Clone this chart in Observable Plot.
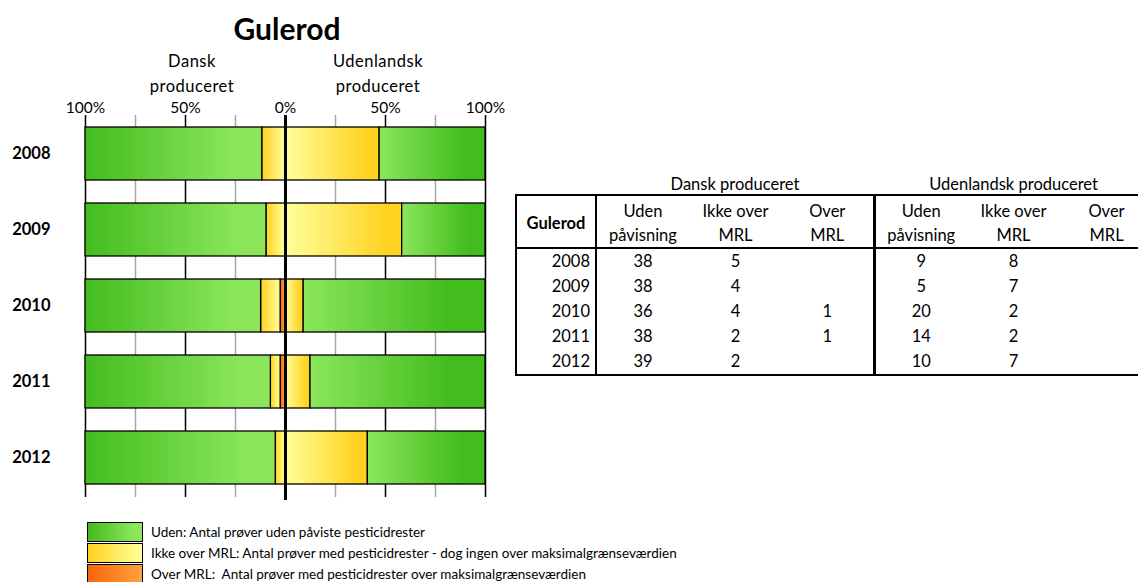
<!DOCTYPE html>
<html><head><meta charset="utf-8">
<script src="https://cdn.jsdelivr.net/npm/d3@7"></script>
<script src="https://cdn.jsdelivr.net/npm/@observablehq/plot@0.6"></script>
<style>
body{margin:0;background:#fff;font-family:Lato,"Noto Sans",sans-serif;color:#000;}
#wrap{position:relative;width:1138px;height:582px;overflow:hidden;background:#fff;}
.lbl{position:absolute;transform:translate(-50%,-50%);white-space:nowrap;text-align:center;}
#title{font-weight:bold;font-size:30px;left:287px;top:28px;}
.grp{font-size:16.5px;line-height:25px;letter-spacing:0.5px;}
#chart{position:absolute;left:0;top:0;}
#tbl{position:absolute;left:515px;top:175px;width:637px;border-collapse:collapse;table-layout:fixed;font-size:16.5px;}
#tbl td{padding:0;text-align:center;vertical-align:middle;white-space:nowrap;}
#tbl tr.g td{height:19px;line-height:19px;}
#tbl tr.h td{height:53px;line-height:24px;border-top:2px solid #000;border-bottom:2px solid #000;padding-top:3px;box-sizing:border-box;}
#tbl tr.d td{height:25px;line-height:25px;}
#tbl tr.d.last td{border-bottom:2px solid #000;}
#tbl td.c0{border-left:2px solid #000;border-right:2px solid #000;}
#tbl tr.g td.c0{border:none;}
#tbl tr.d td.c0{text-align:right;padding-right:5px;}
#tbl td.c3{border-right:3px solid #000;}
#tbl tr.g td.c3{border-right:none;}
#legend{position:absolute;left:87px;top:521px;font-size:13.5px;}
.lrow{display:flex;align-items:center;height:21px;}
.sw{width:54px;height:18px;border:1.5px solid #000;margin-right:8px;flex:none;}
</style></head><body>
<svg width="0" height="0" style="position:absolute">
<defs>
<linearGradient id="gL" x1="0" x2="1" y1="0" y2="0"><stop offset="0" stop-color="#43bc1e"/><stop offset="0.85" stop-color="#8be65c"/></linearGradient>
<linearGradient id="gR" x1="0" x2="1" y1="0" y2="0"><stop offset="0" stop-color="#8be65c"/><stop offset="0.8" stop-color="#43bc1e"/><stop offset="1" stop-color="#43bc1e"/></linearGradient>
<linearGradient id="yL" x1="0" x2="1" y1="0" y2="0"><stop offset="0" stop-color="#ffd21f"/><stop offset="1" stop-color="#ffff9c"/></linearGradient>
<linearGradient id="yR" x1="0" x2="1" y1="0" y2="0"><stop offset="0" stop-color="#ffff9c"/><stop offset="0.88" stop-color="#ffd21f"/><stop offset="1" stop-color="#ffd21f"/></linearGradient>
<linearGradient id="oL" x1="0" x2="1" y1="0" y2="0"><stop offset="0" stop-color="#f96608"/><stop offset="1" stop-color="#ffa040"/></linearGradient>
<linearGradient id="oR" x1="0" x2="1" y1="0" y2="0"><stop offset="0" stop-color="#ffa040"/><stop offset="1" stop-color="#f96608"/></linearGradient>
</defs></svg>
<div id="wrap">
  <div id="chart"></div>
  <div class="lbl" id="title">Gulerod</div>
  <div class="lbl grp" style="left:192px;top:74px;">Dansk<br>produceret</div>
  <div class="lbl grp" style="left:378px;top:74px;">Udenlandsk<br>produceret</div>
  <table id="tbl"></table>
  <div id="legend"></div>
</div>
<script>
const years = ["2008", "2009", "2010", "2011", "2012"];
const dkUden = [38, 38, 36, 38, 39];
const dkIkke = [5, 4, 4, 2, 2];
const dkOver = [null, null, 1, 1, null];
const udUden = [9, 5, 20, 14, 10];
const udIkke = [8, 7, 2, 2, 7];
const udOver = [null, null, null, null, null];
const majorTicks = [-100, -50, 0, 50, 100];
const minorTicks = [-75, -25, 25, 75];
const groupLabels = ["Dansk produceret", "Udenlandsk produceret"];
const colHeads = ["Uden<br>påvisning", "Ikke over<br>MRL", "Over<br>MRL"];
const legendItems = [
  ["gL", "Uden: Antal prøver uden påviste pesticidrester"],
  ["yL", "Ikke over MRL: Antal prøver med pesticidrester - dog ingen over maksimalgrænseværdien"],
  ["oL", "Over MRL:&nbsp; Antal prøver med pesticidrester over maksimalgrænseværdien"]
];

// build stacked segments (center outward: over, ikke, uden)
const segs = [];
years.forEach((y, i) => {
  [[-1, [dkOver[i], dkIkke[i], dkUden[i]], ["oL", "yL", "gL"]],
   [1, [udOver[i], udIkke[i], udUden[i]], ["oR", "yR", "gR"]]].forEach(([sign, vals, fills]) => {
    const total = vals.reduce((a, b) => a + (b || 0), 0);
    let cum = 0;
    vals.forEach((v, k) => {
      if (!v) return;
      const p = v / total * 100;
      segs.push({year: y, x1: sign * cum, x2: sign * (cum + p), fill: `url(#${fills[k]})`});
      cum += p;
    });
  });
});

const plot = Plot.plot({
  width: 520,
  height: 510,
  marginTop: 115,
  marginBottom: 13,
  marginLeft: 85,
  marginRight: 35,
  style: {fontFamily: "Lato, 'Noto Sans', sans-serif", background: "transparent", overflow: "visible"},
  x: {domain: [-100, 100]},
  y: {domain: years, paddingInner: 0.3, paddingOuter: 0.15},
  color: {type: "identity"},
  marks: [
    Plot.ruleX(minorTicks, {stroke: "#a6a6a6", strokeWidth: 1.5}),
    Plot.ruleX(majorTicks.filter(d => d !== 0), {stroke: "#000", strokeWidth: 1.5}),
    Plot.barX(segs, {y: "year", x1: "x1", x2: "x2", fill: "fill", stroke: "#000", strokeWidth: 1.3}),
    Plot.ruleX([0], {stroke: "#000", strokeWidth: 3, insetBottom: -3}),
    Plot.axisX({anchor: "top", ticks: majorTicks, tickSize: 0, tickPadding: 3, fontSize: 15.5,
      tickFormat: d => Math.abs(d) + "%", label: null}),
    Plot.axisY({tickSize: 0, tickPadding: 35, fontSize: 16.5, fontWeight: "bold", label: null})
  ]
});
document.getElementById("chart").appendChild(plot);

// table
const tbl = document.getElementById("tbl");
const widths = [80, 93, 93, 92, 93, 93, 93];
let html = "<colgroup>" + widths.map(w => `<col style="width:${w}px">`).join("") + "</colgroup>";
html += `<tr class="g"><td class="c0"></td><td colspan="3" class="c3">${groupLabels[0]}</td><td colspan="3">${groupLabels[1]}</td></tr>`;
html += `<tr class="h"><td class="c0"><b>Gulerod</b></td>` +
  colHeads.map((h, k) => `<td class="${k === 2 ? "c3" : ""}">${h}</td>`).join("") +
  colHeads.map(h => `<td>${h}</td>`).join("") + "</tr>";
const f = v => v == null ? "" : v;
years.forEach((y, i) => {
  html += `<tr class="d${i === years.length - 1 ? " last" : ""}"><td class="c0">${y}</td>` +
    `<td>${f(dkUden[i])}</td><td>${f(dkIkke[i])}</td><td class="c3">${f(dkOver[i])}</td>` +
    `<td>${f(udUden[i])}</td><td>${f(udIkke[i])}</td><td>${f(udOver[i])}</td></tr>`;
});
tbl.innerHTML = html;

// legend
document.getElementById("legend").innerHTML = legendItems.map(([g, t]) =>
  `<div class="lrow"><svg class="sw" viewBox="0 0 10 10" preserveAspectRatio="none"><rect width="10" height="10" fill="url(#${g})"/></svg><span>${t}</span></div>`).join("");
</script>
</body></html>
